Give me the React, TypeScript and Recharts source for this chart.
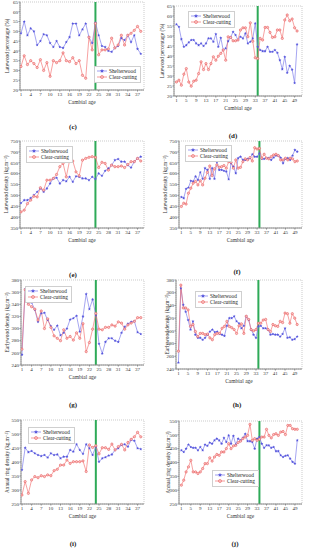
import React from 'react';
import { LineChart, Line, XAxis, YAxis, ReferenceLine, ReferenceArea, Legend } from 'recharts';

const FONT = '"Liberation Serif", "DejaVu Serif", serif';
const BLUE = '#7676ea';
const RED = '#f27070';
const GREEN = '#2eaa58';
const AXIS = '#8a8a8a';

// cambial ages of the two stands
const agesShort = [1, 2, 3, 4, 5, 6, 7, 8, 9, 10, 11, 12, 13, 14, 15, 16, 17, 18, 19, 20, 21, 22, 23, 24, 25, 26, 27, 28, 29, 30, 31, 32, 33, 34, 35, 36, 37, 38];
const agesLong = [1, 2, 3, 4, 5, 6, 7, 8, 9, 10, 11, 12, 13, 14, 15, 16, 17, 18, 19, 20, 21, 22, 23, 24, 25, 26, 27, 28, 29, 30, 31, 32, 33, 34, 35, 36, 37, 38, 39, 40, 41, 42, 43, 44, 45, 46, 47, 48, 49, 50];
const ticksShort = [1, 4, 7, 10, 13, 16, 19, 22, 25, 28, 31, 34, 37];
const ticksLong = [1, 5, 9, 13, 17, 21, 25, 29, 33, 37, 41, 45, 49];

// (c) / (d) latewood percentage
const pctShelterC = [49, 55, 48, 51.5, 50, 43, 45, 48.5, 48, 44, 42, 45, 42, 41.5, 44.5, 47, 54, 54, 48, 51, 54, 47, 44, 54.5, 48, 42.5, 42, 40, 39.5, 41.5, 42.5, 46.5, 45.5, 48, 44.5, 48, 41, 38.5];
const pctClearC = [32, 37.5, 33, 35, 33.5, 31.5, 35.5, 30, 34, 27, 35, 34, 35, 39, 35, 34.5, 36.5, 33.5, 35, 27.5, 26, 47, 40.5, 54, 38, 40.5, 40.5, 41, 46.5, 41.5, 43, 48, 43, 48, 49, 50.5, 52.5, 50];
const pctShelterD = [55.8, 54.6, 48.4, 44.6, 45.4, 46.8, 48, 48, 46.3, 45.4, 46.3, 45, 46.3, 48.8, 48.8, 47.1, 51, 44.6, 49.1, 43, 43.8, 47.4, 49.3, 52.1, 50.5, 48, 49.6, 48.8, 51.3, 46.3, 47.1, 48.8, 56.3, 44.6, 43, 42.4, 42.4, 44.6, 42.1, 42.1, 43, 41.6, 37.9, 33.4, 39.6, 31.6, 35.1, 33.2, 26.5, 45.8];
const pctClearD = [27, 27.9, 25.4, 30.9, 33.7, 27, 24.9, 27.4, 27.9, 31.2, 37.1, 33.2, 36.2, 33.2, 36.2, 39.6, 37.9, 39.9, 41.3, 43, 37.9, 49.6, 49.3, 47.6, 47.6, 48, 53, 54.1, 54.1, 49.6, 56.6, 47.4, 39.1, 38.7, 48.8, 48, 54.3, 54.3, 51.8, 49.3, 49.6, 53, 53, 48.8, 58, 60.5, 57.6, 58.5, 54.1, 52.5];

// (e) / (f) latewood density
const lwShelterE = [465, 478, 478, 488, 501, 516, 532, 516, 532, 555, 578, 581, 555, 570, 565, 585, 562, 588, 585, 578, 578, 570, 585, 575, 601, 590, 613, 624, 639, 662, 667, 655, 655, 639, 628, 655, 670, 678];
const lwClearE = [424, 432, 462, 478, 496, 493, 535, 524, 570, 570, 578, 596, 632, 647, 585, 659, 658, 608, 590, 662, 670, 675, 678, 675, 628, 652, 647, 616, 639, 632, 632, 635, 628, 642, 655, 655, 670, 658];
const lwShelterF = [492, 487, 530, 536, 567, 564, 587, 571, 606, 576, 625, 617, 576, 625, 576, 655, 617, 617, 613, 610, 574, 648, 632, 602, 671, 678, 663, 663, 668, 671, 689, 678, 678, 693, 668, 668, 671, 671, 663, 674, 683, 683, 674, 648, 668, 671, 663, 683, 709, 701];
const lwClearF = [449, 464, 460, 510, 533, 556, 564, 548, 567, 548, 579, 606, 635, 591, 622, 640, 629, 632, 637, 625, 655, 652, 625, 663, 625, 629, 655, 668, 663, 674, 658, 719, 713, 716, 671, 689, 671, 668, 678, 686, 689, 683, 663, 663, 671, 663, 671, 668, 655, 658];

// (g) / (h) earlywood density
const ewShelterG = [257, 365, 343, 343, 331, 311, 325, 326, 314, 304, 298, 305, 289, 293, 300, 315, 317, 321, 295, 320, 357, 332, 348, 322, 275, 259, 278, 284, 284, 280, 278, 293, 303, 308, 311, 312, 294, 291];
const ewClearG = [266, 364, 340, 336, 332, 314, 329, 300, 316, 302, 288, 284, 280, 298, 284, 287, 281, 293, 284, 308, 262, 277, 299, 325, 299, 298, 302, 302, 306, 304, 311, 309, 299, 306, 309, 312, 318, 318];
const ewShelterH = [250, 367, 341, 330, 317, 302, 315, 294, 289, 289, 286, 289, 294, 299, 302, 298, 299, 295, 294, 292, 308, 320, 320, 323, 315, 312, 304, 308, 323, 317, 302, 294, 289, 307, 308, 304, 304, 302, 294, 295, 294, 294, 291, 295, 304, 289, 290, 286, 287, 291];
const ewClearH = [268, 372, 336, 336, 333, 307, 310, 299, 291, 296, 296, 294, 295, 289, 286, 294, 296, 296, 304, 307, 315, 307, 305, 302, 296, 308, 311, 296, 323, 318, 302, 300, 302, 312, 312, 317, 318, 302, 299, 310, 308, 307, 315, 313, 328, 327, 312, 327, 320, 310];

// (i) / (j) annual ring density
const ringShelterI = [372, 451, 435, 439, 431, 425, 421, 425, 416, 431, 425, 427, 413, 419, 419, 443, 437, 463, 443, 429, 463, 449, 425, 455, 401, 413, 417, 423, 427, 443, 449, 461, 463, 455, 479, 476, 449, 446];
const ringClearI = [282, 330, 288, 336, 348, 344, 351, 348, 354, 351, 369, 374, 389, 389, 407, 395, 401, 401, 401, 404, 366, 461, 452, 458, 429, 451, 451, 445, 464, 443, 455, 463, 443, 470, 481, 490, 506, 490];
const ringShelterJ = [444, 438, 450, 465, 456, 453, 453, 444, 456, 444, 465, 460, 472, 468, 480, 486, 480, 468, 489, 474, 498, 468, 496, 465, 486, 480, 489, 504, 477, 477, 474, 450, 486, 492, 468, 453, 462, 462, 453, 456, 441, 441, 426, 420, 424, 426, 414, 402, 396, 480];
const ringClearJ = [318, 336, 366, 384, 408, 366, 366, 360, 366, 378, 396, 396, 417, 405, 420, 429, 426, 438, 438, 450, 468, 450, 460, 462, 472, 477, 486, 492, 498, 538, 480, 486, 480, 484, 492, 492, 520, 498, 489, 501, 504, 498, 510, 512, 501, 534, 534, 522, 520, 520];

const pctTicks = [20, 25, 30, 35, 40, 45, 50, 55, 60, 65];
const lwTicks = [350, 400, 450, 500, 550, 600, 650, 700, 750];
const ewTicks = [240, 260, 280, 300, 320, 340, 360, 380];
const ringTicks = [250, 300, 350, 400, 450, 500, 550];

const starPoints = (cx: number, cy: number, r: number) => {
  const pts: string[] = [];
  for (let k = 0; k < 10; k++) {
    const a = -Math.PI / 2 + (k * Math.PI) / 5;
    const rr = k % 2 ? r * 0.45 : r;
    pts.push(`${cx + rr * Math.cos(a)},${cy + rr * Math.sin(a)}`);
  }
  return pts.join(' ');
};

const StarDot = (props: any) => {
  const { cx, cy } = props;
  if (cx == null || cy == null) return null;
  return <polygon points={starPoints(cx, cy, 1.6)} fill="#5656dc" />;
};

const CircleDot = (props: any) => {
  const { cx, cy } = props;
  if (cx == null || cy == null) return null;
  return <circle cx={cx} cy={cy} r={1.15} fill="#fbc4c4" stroke="#e65252" strokeWidth={0.55} />;
};

const LegendBox = () => (
  <div style={{ border: '0.6px solid #cfcfcf', background: '#fff', padding: '1px 3px 1px 2px', fontFamily: FONT, fontSize: 5.3, lineHeight: '6.3px', color: '#222', whiteSpace: 'nowrap' }}>
    <div style={{ display: 'flex', alignItems: 'center' }}>
      <svg width={10} height={6} style={{ marginRight: 2 }}>
        <line x1={0} y1={3} x2={10} y2={3} stroke={BLUE} strokeWidth={0.7} />
        <polygon points={starPoints(5, 3, 2.2)} fill="#5656dc" />
      </svg>
      <span>Shelterwood</span>
    </div>
    <div style={{ display: 'flex', alignItems: 'center' }}>
      <svg width={10} height={6} style={{ marginRight: 2 }}>
        <line x1={0} y1={3} x2={10} y2={3} stroke={RED} strokeWidth={0.7} />
        <circle cx={5} cy={3} r={1.5} fill="#fbc4c4" stroke="#e65252" strokeWidth={0.55} />
      </svg>
      <span>Clear-cutting</span>
    </div>
  </div>
);

const yTitle = (text: string, offset: number) => (props: any) => {
  const vb = props.viewBox || {};
  const cx = (vb.x || 0) + offset;
  const cy = (vb.y || 0) + (vb.height || 0) / 2;
  return (
    <text x={cx} y={cy} transform={`rotate(-90, ${cx}, ${cy})`} textAnchor="middle" dominantBaseline="central" fontSize={5.3} fontFamily={FONT} fill="#333">
      {text}
    </text>
  );
};

type PanelProps = {
  ages: number[];
  shelter: number[];
  clear: number[];
  long: boolean;
  yTicks: number[];
  yLabel: string;
  x0: number;
  plot: [number, number, number, number];
  titleX: number;
  legend: [number, number];
  tag: string;
  tagPos: [number, number];
};

const Panel = (p: PanelProps) => {
  const [pl, pt, pr, pb] = p.plot;
  const width = p.x0 === 0 ? 152 : 158;
  const top = pt - 3;
  const height = pb + 17 - top;
  const rows = p.ages.map((age, i) => ({ age, shelter: p.shelter[i], clear: p.clear[i] }));
  const yMin = p.yTicks[0];
  const yMax = p.yTicks[p.yTicks.length - 1];
  const xDomain: [number, number] = p.long ? [0, 52] : [0.7, 39];
  const tickStyle = { fontSize: 5, fontFamily: FONT, fill: '#333' };

  return (
    <>
      <div style={{ position: 'absolute', left: p.x0, top, width, height }}>
        <LineChart width={width} height={height} data={rows} margin={{ top: 3, right: p.x0 + width - pr, bottom: 3, left: 0 }}>
          <XAxis
            type="number"
            dataKey="age"
            domain={xDomain}
            ticks={p.long ? ticksLong : ticksShort}
            interval={0}
            allowDataOverflow
            height={14}
            tickSize={1.5}
            tickMargin={0.5}
            stroke={AXIS}
            tick={tickStyle}
            label={{ value: 'Cambial age', position: 'insideBottom', offset: 0, fontSize: 5.5, fontFamily: FONT, fill: '#333' }}
          />
          <YAxis
            type="number"
            domain={[yMin, yMax]}
            ticks={p.yTicks}
            interval={0}
            allowDataOverflow
            width={pl - p.x0}
            tickSize={1.5}
            tickMargin={0.5}
            stroke={AXIS}
            tick={tickStyle}
            label={yTitle(p.yLabel, p.titleX - p.x0)}
          />
          <ReferenceArea x1={xDomain[0]} x2={xDomain[1]} y1={yMin} y2={yMax} fill="none" stroke="#aaa" strokeWidth={0.6} strokeDasharray="1 1" />
          <ReferenceLine x={p.long ? 34 : 24} stroke={GREEN} strokeWidth={2} />
          <Line type="linear" dataKey="shelter" name="Shelterwood" stroke={BLUE} strokeWidth={0.65} dot={StarDot} activeDot={false} isAnimationActive={false} />
          <Line type="linear" dataKey="clear" name="Clear-cutting" stroke={RED} strokeWidth={0.65} dot={CircleDot} activeDot={false} isAnimationActive={false} />
          <Legend
            content={<LegendBox />}
            layout="vertical"
            align="center"
            verticalAlign="middle"
            wrapperStyle={{ position: 'absolute', left: p.legend[0] - p.x0, top: p.legend[1] - top, width: 'auto', height: 'auto' }}
          />
        </LineChart>
      </div>
      <div
        style={{
          position: 'absolute',
          left: p.tagPos[0],
          top: p.tagPos[1],
          transform: 'translate(-50%, -50%)',
          fontFamily: FONT,
          fontWeight: 'bold',
          fontSize: 7,
          color: '#222',
        }}
      >
        {p.tag}
      </div>
    </>
  );
};

const App = () => (
  <div style={{ position: 'absolute', left: 0, top: 0, width: 311, height: 550, background: '#fff', overflow: 'hidden' }}>
    <Panel ages={agesShort} shelter={pctShelterC} clear={pctClearC} long={false} yTicks={pctTicks} yLabel="Latewood percentage (%)"
      x0={0} plot={[20, 2, 144, 90]} titleX={7} legend={[94, 66]} tag="(c)" tagPos={[73, 127]} />
    <Panel ages={agesLong} shelter={pctShelterD} clear={pctClearD} long yTicks={pctTicks} yLabel="Latewood percentage (%)"
      x0={153} plot={[174, 6, 302, 96]} titleX={162} legend={[188, 11]} tag="(d)" tagPos={[233, 136]} />
    <Panel ages={agesShort} shelter={lwShelterE} clear={lwClearE} long={false} yTicks={lwTicks} yLabel="Latewood density (kg.m⁻³)"
      x0={0} plot={[20, 141, 144, 228]} titleX={6} legend={[26, 146]} tag="(e)" tagPos={[73, 275]} />
    <Panel ages={agesLong} shelter={lwShelterF} clear={lwClearF} long yTicks={lwTicks} yLabel="Latewood density (kg.m⁻³)"
      x0={153} plot={[179, 141, 302, 228]} titleX={165} legend={[185, 145]} tag="(f)" tagPos={[237, 272]} />
    <Panel ages={agesShort} shelter={ewShelterG} clear={ewClearG} long={false} yTicks={ewTicks} yLabel="Earlywood density (kg.m⁻³)"
      x0={0} plot={[21, 280, 144, 365]} titleX={7} legend={[25, 286]} tag="(g)" tagPos={[73, 405]} />
    <Panel ages={agesLong} shelter={ewShelterH} clear={ewClearH} long yTicks={ewTicks} yLabel="Earlywood density (kg.m⁻³)"
      x0={153} plot={[176, 280, 302, 369]} titleX={167} legend={[195, 291]} tag="(h)" tagPos={[237, 405]} />
    <Panel ages={agesShort} shelter={ringShelterI} clear={ringClearI} long={false} yTicks={ringTicks} yLabel="Annual ring density (kg.m⁻³)"
      x0={0} plot={[21, 420, 144, 504]} titleX={7} legend={[28, 427]} tag="(i)" tagPos={[73, 544]} />
    <Panel ages={agesLong} shelter={ringShelterJ} clear={ringClearJ} long yTicks={ringTicks} yLabel="Annual ring density (kg.m⁻³)"
      x0={153} plot={[179, 421, 302, 504]} titleX={168} legend={[212, 470]} tag="(j)" tagPos={[235, 544]} />
  </div>
);

export default App;
